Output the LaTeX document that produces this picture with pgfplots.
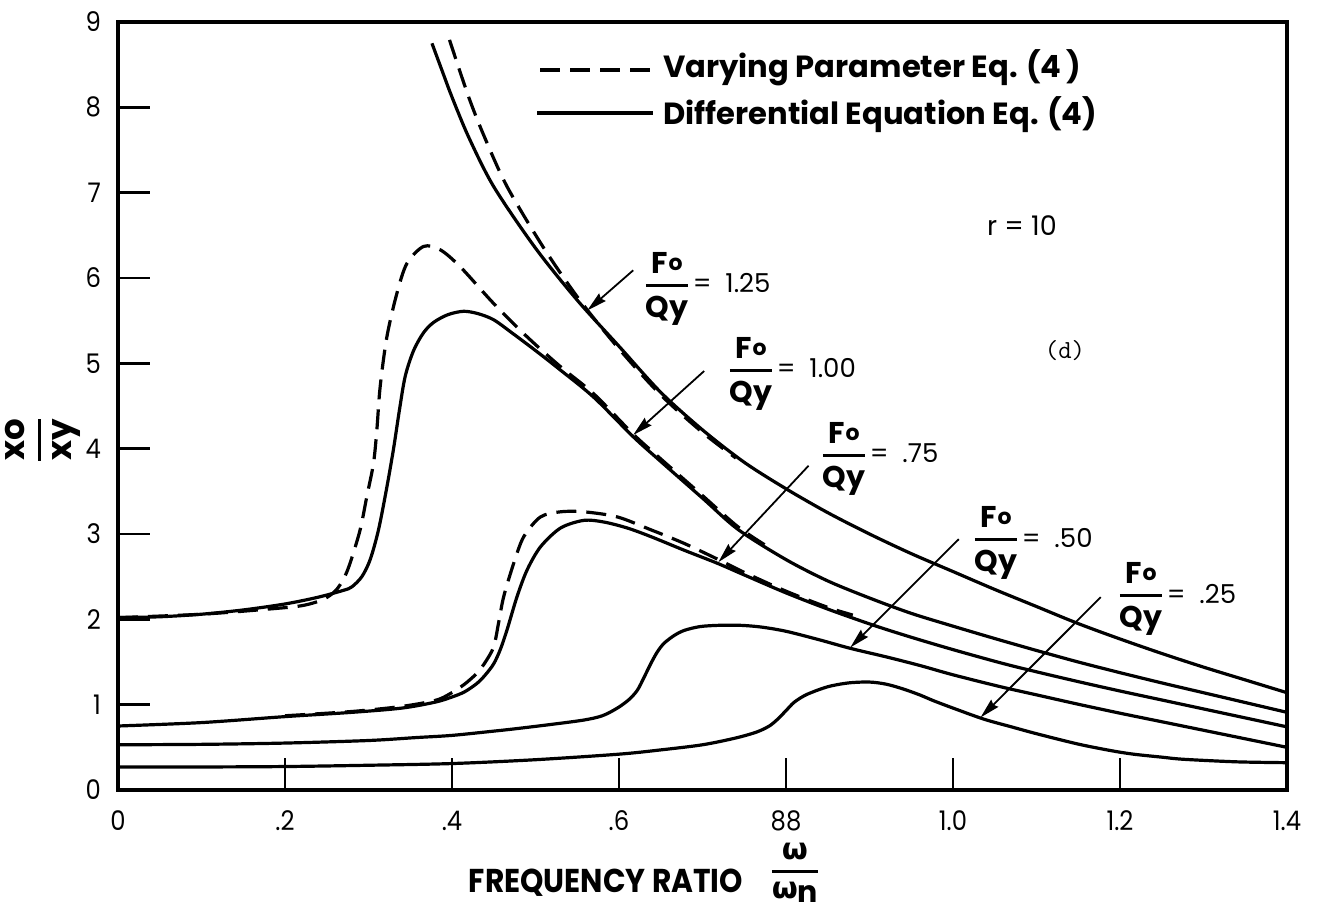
\documentclass[border=0pt]{standalone}
\usepackage{pgfplots}
\pgfplotsset{compat=1.18}
\usepackage{fontspec}
\setmainfont{Poppins}
\newfontfamily\greekfont{DejaVu Sans}
\newfontfamily\narrowfont{Poppins}[FakeStretch=0.9]
\usetikzlibrary{arrows.meta}

% picture units: 1 unit = 0.5pt, origin at top-left like the drawing grid
\newcommand\pp[2]{({#1*0.5pt},{(916-#2)*0.5pt})}
\newcommand\tickfont{\narrowfont\fontsize{13.5}{13.5}\selectfont}
\newcommand\legfont{\bfseries\fontsize{15.3}{15.3}\selectfont}
\newcommand\valfont{\fontsize{13}{13}\selectfont}
% F_o over Q_y with a heavy rule
\newcommand\FQ{{\bfseries\fontsize{15}{15}\selectfont
  $\displaystyle{\hbox{F\kern0.3pt\raisebox{0.2ex}{\fontsize{11}{11}\selectfont o}}\above 1.5pt\hbox{Qy}}$}}
\newcommand\lab[1]{\FQ{\valfont\kern1pt=\ \ #1}}

\pgfplotsset{
  sol/.style={line width=1.6pt, black, solid, no markers, smooth, tension=0.5},
  dsh/.style={sol, dash pattern=on 10pt off 5pt},
}

\begin{document}
\begin{tikzpicture}
\useasboundingbox (0,0) rectangle (663pt,458pt);
\begin{axis}[
  at={(59pt,63pt)}, anchor=south west,
  scale only axis, width=584.5pt, height=384pt,
  xmin=0, xmax=1.4, ymin=0, ymax=9,
  axis line style={line width=2pt},
  tick style={line width=1.3pt, black},
  major tick length=16pt,
  tick align=inside,
  xtick pos=bottom, ytick pos=left,
  xtick={0,0.2,0.4,0.6,0.8,1.0,1.2,1.4},
  xticklabels={0,.2,.4,.6,88,1.0,1.2,1.4},
  ytick={0,1,2,3,4,5,6,7,8,9},
  /pgf/number format/assume math mode=true,
  ticklabel style={font=\tickfont},
  xticklabel style={yshift=-7pt},
  yticklabel style={xshift=-5pt},
]
% F0/Qy = 1.25
\addplot[sol] coordinates {(0.376,8.75) (0.39,8.38) (0.40,8.12) (0.42,7.65) (0.45,7.07) (0.50,6.35) (0.55,5.74) (0.60,5.20) (0.65,4.66) (0.70,4.22) (0.75,3.84) (0.80,3.53) (0.85,3.25) (0.90,3.00) (0.95,2.77) (1.00,2.56) (1.05,2.35) (1.10,2.15) (1.15,1.95) (1.20,1.77) (1.25,1.60) (1.30,1.44) (1.35,1.29) (1.40,1.14)};
\addplot[dsh] coordinates {(0.397,8.79) (0.420,8.12) (0.439,7.65) (0.466,7.07) (0.510,6.35) (0.553,5.74) (0.60,5.17) (0.65,4.63) (0.70,4.19) (0.74,3.89)};
% F0/Qy = 1.00
\addplot[sol] coordinates {(0,2.02) (0.05,2.03) (0.10,2.06) (0.15,2.11) (0.20,2.18) (0.24,2.26) (0.27,2.34) (0.28,2.38) (0.292,2.50) (0.302,2.70) (0.312,3.05) (0.322,3.55) (0.330,4.00) (0.337,4.45) (0.344,4.85) (0.354,5.15) (0.366,5.36) (0.378,5.48) (0.395,5.57) (0.414,5.61) (0.432,5.58) (0.450,5.51) (0.470,5.37) (0.50,5.15) (0.53,4.92) (0.57,4.60) (0.617,4.14) (0.65,3.85) (0.70,3.42) (0.743,3.05) (0.80,2.70) (0.85,2.45) (0.90,2.25) (0.95,2.07) (1.00,1.92) (1.05,1.775) (1.10,1.635) (1.15,1.50) (1.20,1.375) (1.25,1.255) (1.30,1.14) (1.35,1.025) (1.40,0.91)};
\addplot[dsh] coordinates {(0,2.02) (0.10,2.06) (0.18,2.12) (0.22,2.16) (0.245,2.23) (0.26,2.33) (0.27,2.47) (0.278,2.66) (0.290,3.05) (0.298,3.44) (0.306,3.83) (0.310,4.22) (0.314,4.73) (0.322,5.31) (0.334,5.82) (0.346,6.17) (0.366,6.37) (0.386,6.33) (0.410,6.13) (0.450,5.70) (0.490,5.31) (0.530,4.96) (0.570,4.64) (0.617,4.17) (0.65,3.88) (0.70,3.45) (0.743,3.08) (0.78,2.84)};
% F0/Qy = 0.75
\addplot[sol] coordinates {(0,0.75) (0.10,0.79) (0.20,0.86) (0.28,0.91) (0.34,0.96) (0.38,1.03) (0.40,1.09) (0.415,1.15) (0.43,1.25) (0.44,1.35) (0.45,1.48) (0.458,1.65) (0.466,1.88) (0.478,2.27) (0.490,2.58) (0.506,2.85) (0.530,3.07) (0.558,3.16) (0.582,3.14) (0.61,3.07) (0.638,2.97) (0.678,2.81) (0.717,2.66) (0.75,2.52) (0.80,2.31) (0.85,2.12) (0.905,1.93) (0.95,1.79) (1.00,1.645) (1.057,1.49) (1.10,1.385) (1.15,1.27) (1.20,1.16) (1.25,1.055) (1.30,0.95) (1.35,0.845) (1.40,0.74)};
\addplot[dsh] coordinates {(0.20,0.87) (0.28,0.92) (0.34,0.98) (0.38,1.05) (0.398,1.13) (0.415,1.24) (0.430,1.37) (0.440,1.50) (0.450,1.68) (0.456,1.97) (0.462,2.27) (0.474,2.66) (0.486,2.97) (0.506,3.20) (0.530,3.26) (0.558,3.26) (0.598,3.20) (0.638,3.05) (0.678,2.89) (0.717,2.71) (0.75,2.55) (0.80,2.33) (0.85,2.14) (0.88,2.05)};
% F0/Qy = 0.50
\addplot[sol] coordinates {(0,0.53) (0.10,0.535) (0.20,0.55) (0.30,0.58) (0.358,0.615) (0.40,0.64) (0.45,0.69) (0.478,0.72) (0.52,0.77) (0.558,0.82) (0.58,0.87) (0.598,0.96) (0.612,1.06) (0.622,1.17) (0.630,1.32) (0.638,1.48) (0.646,1.62) (0.654,1.72) (0.666,1.81) (0.678,1.87) (0.697,1.915) (0.72,1.93) (0.745,1.93) (0.77,1.91) (0.80,1.86) (0.84,1.76) (0.877,1.66) (0.92,1.56) (0.96,1.46) (1.00,1.35) (1.057,1.21) (1.10,1.115) (1.15,1.005) (1.20,0.90) (1.25,0.80) (1.30,0.70) (1.35,0.60) (1.40,0.50)};
% F0/Qy = 0.25
\addplot[sol] coordinates {(0,0.27) (0.10,0.27) (0.20,0.275) (0.30,0.29) (0.40,0.31) (0.50,0.355) (0.60,0.42) (0.65,0.47) (0.70,0.53) (0.74,0.61) (0.765,0.68) (0.78,0.75) (0.79,0.83) (0.80,0.93) (0.81,1.03) (0.825,1.12) (0.85,1.21) (0.875,1.255) (0.90,1.265) (0.92,1.24) (0.94,1.185) (0.96,1.115) (0.977,1.045) (1.00,0.96) (1.037,0.83) (1.07,0.74) (1.096,0.67) (1.13,0.585) (1.156,0.525) (1.19,0.46) (1.216,0.42) (1.25,0.385) (1.276,0.36) (1.34,0.33) (1.40,0.32)};
% leader arrows to each curve
\begin{scope}[line width=0.9pt, -{Stealth[length=10pt,width=5pt,inset=1pt]}]
\draw (axis cs:0.617,6.09) -- (axis cs:0.562,5.62);
\draw (axis cs:0.702,4.91) -- (axis cs:0.617,4.16);
\draw (axis cs:0.827,3.80) -- (axis cs:0.719,2.67);
\draw (axis cs:1.007,2.94) -- (axis cs:0.877,1.67);
\draw (axis cs:1.177,2.26) -- (axis cs:1.033,0.85);
\end{scope}
\end{axis}

% legend
\draw[line width=1.6pt, dash pattern=on 10pt off 5pt] \pp{540}{70} -- \pp{657}{70};
\node[anchor=base west, inner sep=0] at \pp{663}{78} {\legfont Varying Parameter Eq. (4\,)};
\draw[line width=1.6pt] \pp{537}{113} -- \pp{653}{113};
\node[anchor=base west, inner sep=0] at \pp{663}{125} {\legfont Differential Equation Eq. (4)};

% curve labels
\node[anchor=base west, inner sep=0] at \pp{643}{293} {\lab{1.25}};
\node[anchor=base west, inner sep=0] at \pp{727}{378} {\lab{1.00}};
\node[anchor=base west, inner sep=0] at \pp{820}{463} {\lab{.75}};
\node[anchor=base west, inner sep=0] at \pp{972}{547} {\lab{.50}};
\node[anchor=base west, inner sep=0] at \pp{1117}{603} {\lab{.25}};

\node[inner sep=0] at \pp{1022}{226} {\fontsize{13.5}{13.5}\selectfont r = 10};
\node[inner sep=0] at \pp{1065}{351} {\ttfamily\fontsize{13}{13}\selectfont (d)};

% axis titles
\node[rotate=90, inner sep=0] at \pp{43}{440}
  {\bfseries\fontsize{17}{17}\selectfont $\displaystyle{\hbox{xo}\above 1.6pt\hbox{xy}}$};
\node[anchor=base, inner sep=0] at \pp{606}{892}
  {\narrowfont\bfseries\fontsize{16.5}{16.5}\selectfont FREQUENCY RATIO};
\node[inner sep=0] at \pp{795}{873}
  {\bfseries\fontsize{15}{15}\selectfont $\displaystyle{\hbox{\greekfont ω}\above 1.5pt\hbox{\greekfont ω\lower2pt\hbox{\normalfont\bfseries n}}}$};
\end{tikzpicture}
\end{document}
